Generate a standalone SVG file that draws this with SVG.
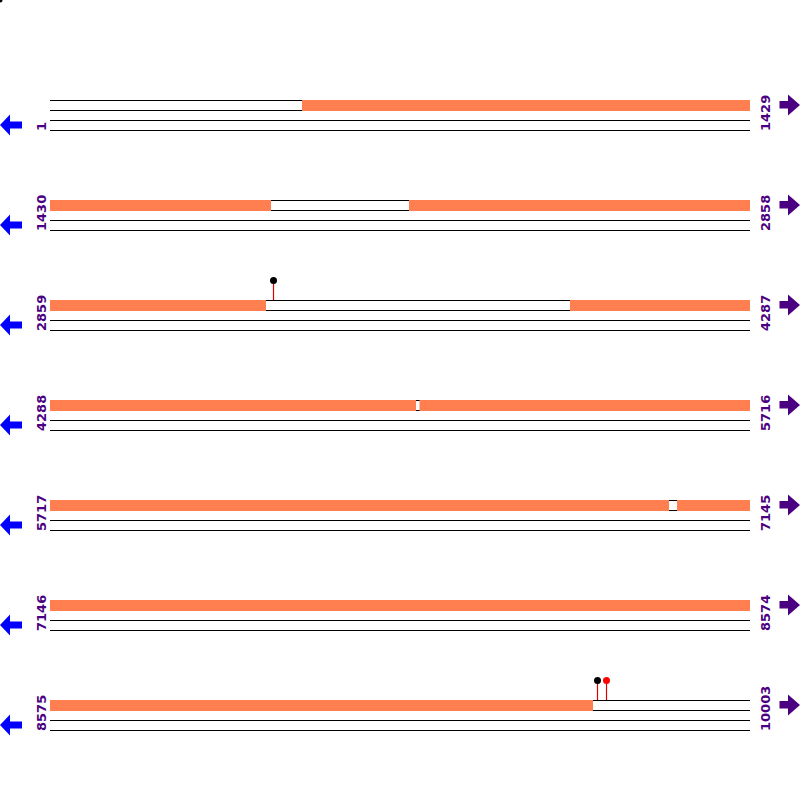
<svg xmlns="http://www.w3.org/2000/svg" width="800" height="800" viewBox="0 0 800 800">
<style>
.ln{stroke:#000;stroke-width:1;fill:none}
.seg{fill:#FF7F50}
.lbl{font-family:"DejaVu Sans",sans-serif;font-size:13px;font-weight:bold;fill:#4B0082}
.la{fill:#0000FF}
.ra{fill:#4B0082}
.stem{stroke:#E00000;stroke-width:1.2}
</style>
<defs>
<g id="lines">
<line class="ln" x1="50" y1="100.5" x2="750" y2="100.5"/>
<line class="ln" x1="50" y1="110.5" x2="750" y2="110.5"/>
<line class="ln" x1="50" y1="120.5" x2="750" y2="120.5"/>
<line class="ln" x1="50" y1="130.5" x2="750" y2="130.5"/>
</g>
<path id="larrow" d="M0,125 L10,114.5 L10,121.5 L22,121.5 L22,128.5 L10,128.5 L10,135.5 Z"/>
<path id="rarrow" d="M779.5,101 L788,101 L788,94.5 L800,105 L788,115.5 L788,108.5 L779.5,108.5 Z"/>
</defs>
<circle cx="0" cy="0" r="2.5" fill="#000"/>
<g id="row1">
<use href="#lines"/>
<rect class="seg" x="302" y="100" width="448" height="11"/>
<text class="lbl" transform="translate(46,131) rotate(-90)">1</text>
<text class="lbl" transform="translate(770,131) rotate(-90)">1429</text>
<use href="#larrow" class="la"/>
<use href="#rarrow" class="ra"/>
</g>
<g id="row2" transform="translate(0,100)">
<use href="#lines"/>
<rect class="seg" x="50" y="100" width="221" height="11"/>
<rect class="seg" x="409" y="100" width="341" height="11"/>
<text class="lbl" transform="translate(46,131) rotate(-90)">1430</text>
<text class="lbl" transform="translate(770,131) rotate(-90)">2858</text>
<use href="#larrow" class="la"/>
<use href="#rarrow" class="ra"/>
</g>
<g id="row3" transform="translate(0,200)">
<use href="#lines"/>
<rect class="seg" x="50" y="100" width="216" height="11"/>
<rect class="seg" x="570" y="100" width="180" height="11"/>
<line class="stem" x1="273.5" y1="83" x2="273.5" y2="100"/>
<circle cx="273.5" cy="80.5" r="3.5" fill="#000"/>
<text class="lbl" transform="translate(46,131) rotate(-90)">2859</text>
<text class="lbl" transform="translate(770,131) rotate(-90)">4287</text>
<use href="#larrow" class="la"/>
<use href="#rarrow" class="ra"/>
</g>
<g id="row4" transform="translate(0,300)">
<use href="#lines"/>
<rect class="seg" x="50" y="100" width="366" height="11"/>
<rect class="seg" x="419.5" y="100" width="330.5" height="11"/>
<text class="lbl" transform="translate(46,131) rotate(-90)">4288</text>
<text class="lbl" transform="translate(770,131) rotate(-90)">5716</text>
<use href="#larrow" class="la"/>
<use href="#rarrow" class="ra"/>
</g>
<g id="row5" transform="translate(0,400)">
<use href="#lines"/>
<rect class="seg" x="50" y="100" width="619" height="11"/>
<rect class="seg" x="677" y="100" width="73" height="11"/>
<text class="lbl" transform="translate(46,131) rotate(-90)">5717</text>
<text class="lbl" transform="translate(770,131) rotate(-90)">7145</text>
<use href="#larrow" class="la"/>
<use href="#rarrow" class="ra"/>
</g>
<g id="row6" transform="translate(0,500)">
<use href="#lines"/>
<rect class="seg" x="50" y="100" width="700" height="11"/>
<text class="lbl" transform="translate(46,131) rotate(-90)">7146</text>
<text class="lbl" transform="translate(770,131) rotate(-90)">8574</text>
<use href="#larrow" class="la"/>
<use href="#rarrow" class="ra"/>
</g>
<g id="row7" transform="translate(0,600)">
<use href="#lines"/>
<rect class="seg" x="50" y="100" width="543" height="11"/>
<line class="stem" x1="597.5" y1="83" x2="597.5" y2="100"/>
<circle cx="597.5" cy="80.5" r="3.5" fill="#000"/>
<line class="stem" x1="606.5" y1="83" x2="606.5" y2="100"/>
<circle cx="606.5" cy="80.5" r="3.5" fill="#FF0000"/>
<text class="lbl" transform="translate(46,131) rotate(-90)">8575</text>
<text class="lbl" transform="translate(770,131) rotate(-90)">10003</text>
<use href="#larrow" class="la"/>
<use href="#rarrow" class="ra"/>
</g>
</svg>
